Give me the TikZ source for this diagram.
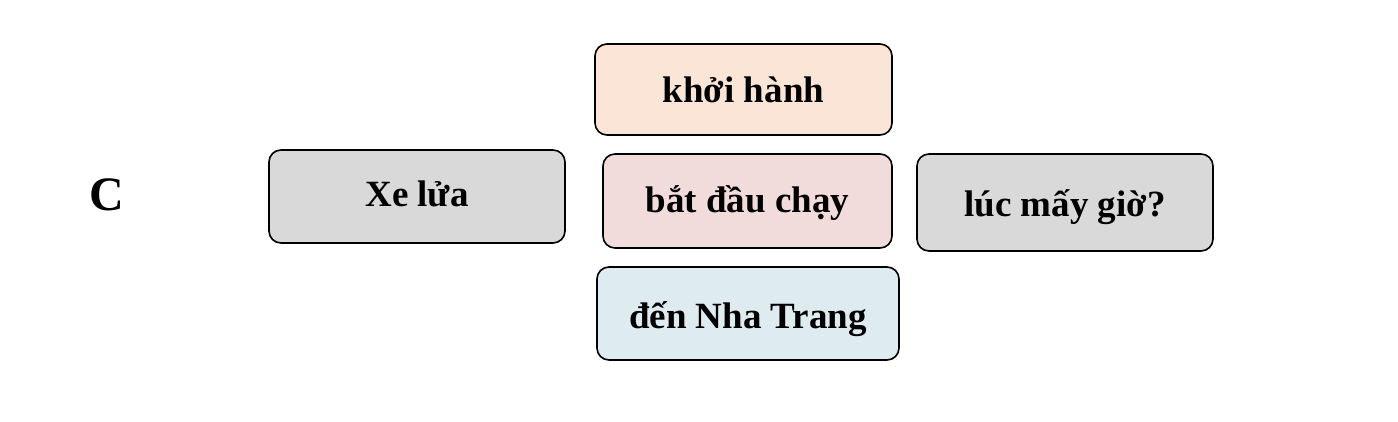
\documentclass[tikz,border=0pt]{standalone}
\usepackage{fontspec}
\setmainfont{Liberation Serif}
\definecolor{greybox}{HTML}{D9D9D9}
\definecolor{peachbox}{HTML}{FBE5D6}
\definecolor{rosebox}{HTML}{F2DCDB}
\definecolor{bluebox}{HTML}{DEEBF1}
\begin{document}
\begin{tikzpicture} [x=1pt,y=-1pt,
    word/.style={draw,line width=1.6pt,rounded corners=12pt,inner sep=0pt,
                 minimum height=93pt,text height=33pt,text depth=7pt,
                 font=\fontsize{37}{40}\selectfont\bfseries},
    letter/.style={font=\fontsize{48}{52}\selectfont\bfseries},
]
    \useasboundingbox (0,0) rectangle (1398,422);
    \node [letter] (c) at (107,195) {C};
    \node [word, fill=greybox, minimum width=296pt, text depth=12pt] (xelua) at (417,196.5) {Xe lửa};
    \node [word, fill=peachbox, minimum width=297pt, minimum height=91pt, text depth=6pt] (khoihanh) at (743.5,89.5) {khởi hành};
    \node [word, fill=rosebox, minimum width=289pt, minimum height=94pt, text depth=9pt] (batdau) at (747.5,201) {bắt đầu chạy};
    \node [word, fill=bluebox, minimum width=302pt, text depth=4pt] (den) at (748,313.5) {đến Nha Trang};
    \node [word, fill=greybox, minimum width=296pt, minimum height=97pt, text depth=5pt] (lucmay) at (1065,202.5) {lúc mấy giờ?};
\end{tikzpicture}
\end{document}
